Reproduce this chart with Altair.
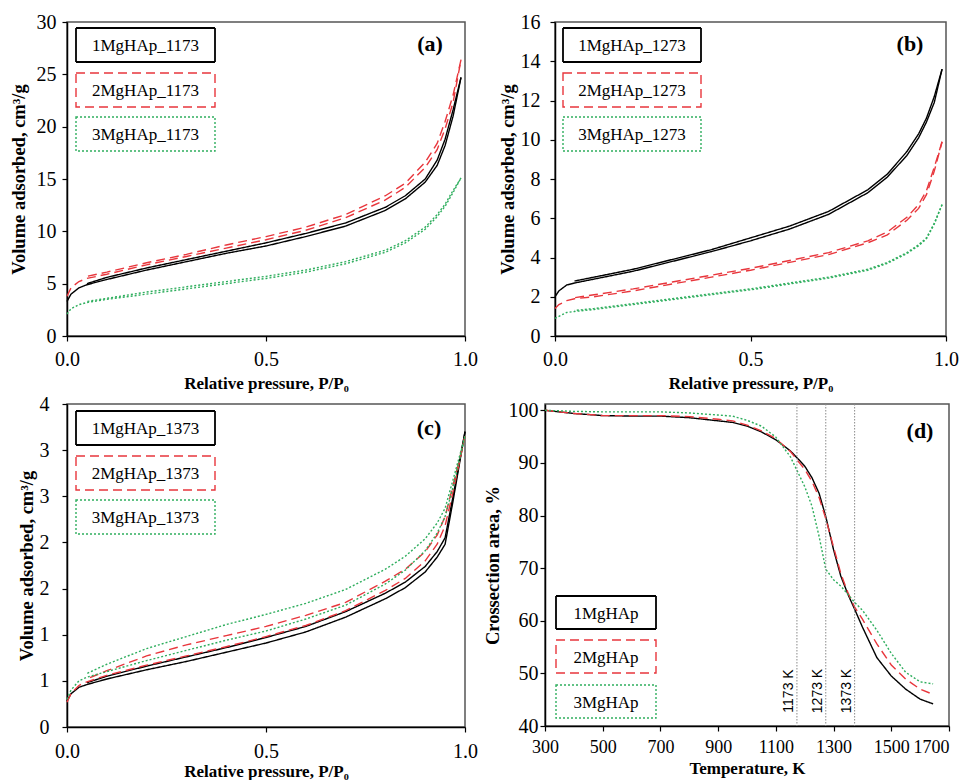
import altair as alt
import pandas as pd

SERIF = "Liberation Serif"
SANS = "Liberation Sans"

SERIES = ["1", "2", "3"]
COLORS = ["#000000", "#e8363c", "#2fae5e"]
DASHES = [[1, 0], [9, 5], [2, 2]]

# ---------------- panel (a) ----------------
p_a = [0, 0.01, 0.03, 0.05, 0.1, 0.2, 0.3, 0.4, 0.5, 0.6, 0.7, 0.8, 0.85, 0.9, 0.93, 0.95, 0.97, 0.99]
a_ads = {
    "1": [3.3, 4.0, 4.6, 4.9, 5.4, 6.3, 7.1, 7.9, 8.6, 9.5, 10.5, 12.0, 13.1, 14.7, 16.3, 18.2, 21.0, 24.7],
    "2": [3.8, 4.6, 5.2, 5.5, 5.9, 6.8, 7.6, 8.4, 9.2, 10.1, 11.3, 13.0, 14.2, 16.1, 17.8, 19.8, 22.3, 26.4],
    "3": [2.1, 2.6, 3.0, 3.2, 3.5, 4.0, 4.5, 5.0, 5.5, 6.1, 6.9, 8.0, 8.9, 10.2, 11.4, 12.4, 13.7, 15.1],
}
a_des = {
    "1": [5.0, 5.6, 6.5, 7.3, 8.1, 8.9, 9.8, 10.8, 12.3, 13.4, 15.0, 16.8, 18.8, 21.6, 24.7],
    "2": [5.7, 6.1, 7.0, 7.8, 8.7, 9.5, 10.4, 11.6, 13.4, 14.6, 16.6, 18.4, 20.5, 23.0, 26.4],
    "3": [3.3, 3.6, 4.2, 4.7, 5.2, 5.7, 6.3, 7.1, 8.2, 9.1, 10.4, 11.6, 12.6, 13.9, 15.1],
}
a_labels = ["1MgHAp_1173", "2MgHAp_1173", "3MgHAp_1173"]

# ---------------- panel (b) ----------------
p_b = [0, 0.01, 0.03, 0.05, 0.1, 0.2, 0.3, 0.4, 0.5, 0.6, 0.7, 0.8, 0.85, 0.9, 0.93, 0.95, 0.97, 0.99]
b_ads = {
    "1": [2.0, 2.3, 2.6, 2.7, 2.9, 3.3, 3.8, 4.3, 4.85, 5.45, 6.2, 7.3, 8.1, 9.2, 10.1, 10.9, 11.9, 13.6],
    "2": [1.4, 1.6, 1.8, 1.9, 2.0, 2.3, 2.65, 3.0, 3.35, 3.75, 4.15, 4.75, 5.15, 5.9, 6.5, 7.2, 8.4, 9.9],
    "3": [0.9, 1.0, 1.2, 1.25, 1.35, 1.6, 1.85, 2.1, 2.35, 2.65, 2.95, 3.35, 3.7, 4.2, 4.6, 4.95, 5.7, 6.7],
}
b_des = {
    "1": [2.8, 3.0, 3.4, 3.9, 4.4, 5.0, 5.6, 6.35, 7.45, 8.25, 9.4, 10.3, 11.1, 12.2, 13.6],
    "2": [1.95, 2.1, 2.4, 2.75, 3.1, 3.45, 3.85, 4.25, 4.85, 5.3, 6.05, 6.7, 7.4, 8.6, 9.9],
    "3": [1.3, 1.4, 1.65, 1.9, 2.15, 2.4, 2.7, 3.0, 3.4, 3.75, 4.25, 4.65, 5.0, 5.75, 6.7],
}
b_labels = ["1MgHAp_1273", "2MgHAp_1273", "3MgHAp_1273"]

# ---------------- panel (c) ----------------
p_c = [0, 0.01, 0.03, 0.05, 0.1, 0.2, 0.3, 0.4, 0.5, 0.6, 0.7, 0.8, 0.85, 0.9, 0.93, 0.95, 0.97, 1.0]
c_ads = {
    "1": [0.28, 0.36, 0.43, 0.46, 0.52, 0.62, 0.71, 0.81, 0.91, 1.03, 1.19, 1.39, 1.51, 1.68, 1.84, 1.98, 2.45, 3.2],
    "2": [0.27, 0.36, 0.45, 0.49, 0.56, 0.67, 0.77, 0.87, 0.98, 1.1, 1.26, 1.48, 1.61, 1.8, 1.98, 2.18, 2.55, 3.15],
    "3": [0.3, 0.4, 0.5, 0.54, 0.6, 0.72, 0.83, 0.94, 1.04, 1.17, 1.32, 1.55, 1.7, 1.91, 2.1, 2.28, 2.6, 3.15],
}
c_des = {
    "1": [0.48, 0.55, 0.66, 0.76, 0.86, 0.97, 1.09, 1.25, 1.45, 1.57, 1.74, 1.9, 2.05, 2.5, 3.2],
    "2": [0.52, 0.61, 0.77, 0.89, 0.99, 1.09, 1.21, 1.35, 1.58, 1.71, 1.9, 2.08, 2.28, 2.62, 3.15],
    "3": [0.58, 0.68, 0.85, 0.98, 1.11, 1.22, 1.34, 1.49, 1.71, 1.85, 2.04, 2.21, 2.37, 2.68, 3.15],
}
c_labels = ["1MgHAp_1373", "2MgHAp_1373", "3MgHAp_1373"]

# ---------------- panel (d) ----------------
T_d = [300, 400, 500, 600, 700, 800, 900, 950, 1000, 1050, 1100, 1150, 1173, 1200, 1225, 1250,
       1273, 1300, 1325, 1350, 1373, 1400, 1450, 1500, 1550, 1600, 1645]
d_vals = {
    "1": [100, 99.4, 99.0, 98.9, 98.9, 98.6, 98.0, 97.7, 97.0, 95.9, 94.4, 92.3, 91.0, 89.4, 87.2, 84.2,
          79.8, 73.5, 68.5, 65.0, 62.2, 58.8, 53.0, 49.5, 47.0, 45.1, 44.2],
    "2": [100, 99.4, 99.0, 99.0, 99.0, 98.8, 98.3, 98.0, 97.2, 96.1, 94.6, 92.2, 90.6, 88.8, 86.5, 83.4,
          79.4, 74.0, 69.0, 65.3, 62.6, 60.3, 55.6, 51.6, 48.9, 47.0, 46.0],
    "3": [100, 99.8, 99.7, 99.7, 99.7, 99.5, 99.1, 98.9, 98.1, 97.0, 94.9, 91.2, 88.6, 85.5, 81.8, 76.0,
          69.8, 67.8, 66.6, 65.0, 63.5, 62.0, 58.2, 53.8, 50.2, 48.4, 48.0],
}
d_labels = ["1MgHAp", "2MgHAp", "3MgHAp"]
d_marks = [1173, 1273, 1373]
d_mark_labels = ["1173 K", "1273 K", "1373 K"]

X_TITLE = "Relative pressure,  P/P\u2080"
Y_TITLE = "Volume adsorbed, cm\u00b3/g"

color_scale = alt.Scale(domain=SERIES, range=COLORS)
dash_scale = alt.Scale(domain=SERIES, range=DASHES)


def iso_frame(p, ads, des):
    rows = []
    for s in SERIES:
        for i, (x, v) in enumerate(zip(p, ads[s])):
            rows.append({"p": x, "v": v, "series": s, "branch": s + "a", "order": i})
        pd_ = p[-len(des[s]):]
        pts = list(zip(pd_, des[s]))[::-1]
        for i, (x, v) in enumerate(pts):
            rows.append({"p": x, "v": v, "series": s, "branch": s + "d", "order": i})
    return pd.DataFrame(rows)


def legend_layers(labels, x0, x1, tops, h, fs=17):
    layers = []
    for i, lab in enumerate(labels):
        df = pd.DataFrame({"label": [lab]})
        base = alt.Chart(df)
        layers.append(base.mark_rect(fill="white", stroke=COLORS[i],
                                     strokeWidth=1.8 if i == 0 else 1.4,
                                     strokeDash=DASHES[i]).encode(
            x=alt.value(x0), x2=alt.value(x1), y=alt.value(tops[i]), y2=alt.value(tops[i] + h)))
        layers.append(base.mark_text(font=SERIF, fontSize=fs, color="black",
                                     align="center", baseline="middle").encode(
            x=alt.value((x0 + x1) / 2), y=alt.value(tops[i] + h / 2 + 1), text="label:N"))
    return layers


def tag_layer(tag, x, y):
    return alt.Chart(pd.DataFrame({"t": [tag]})).mark_text(
        font=SERIF, fontSize=22, fontWeight="bold", color="black", align="center", baseline="middle"
    ).encode(x=alt.value(x), y=alt.value(y), text="t:N")


def iso_panel(p, ads, des, labels, ydom, yvals, w, h, tag, tagpos, leg_x, leg_tops,
              ylabpad, ytitlepad, xlabpad, xtitlepad, ylabexpr=None):
    df = iso_frame(p, ads, des)
    yaxis_kw = dict(values=yvals, title=Y_TITLE, labelPadding=ylabpad, titlePadding=ytitlepad)
    if ylabexpr:
        yaxis_kw["labelExpr"] = ylabexpr
    lines = alt.Chart(df).mark_line(strokeWidth=1.4).encode(
        x=alt.X("p:Q", scale=alt.Scale(domain=[0, 1], nice=False),
                axis=alt.Axis(values=[0, 0.5, 1], format=".1f", title=X_TITLE,
                              labelPadding=xlabpad, titlePadding=xtitlepad, titleFontSize=17)),
        y=alt.Y("v:Q", scale=alt.Scale(domain=ydom, nice=False), axis=alt.Axis(**yaxis_kw)),
        color=alt.Color("series:N", scale=color_scale, legend=None),
        strokeDash=alt.StrokeDash("series:N", scale=dash_scale, legend=None),
        detail="branch:N",
        order="order:Q",
    )
    layers = [lines] + legend_layers(labels, leg_x[0], leg_x[1], leg_tops, 34) + [tag_layer(tag, *tagpos)]
    return alt.layer(*layers).properties(width=w, height=h)


panel_a = iso_panel(p_a, a_ads, a_des, a_labels, [0, 30], [0, 5, 10, 15, 20, 25, 30], 398, 314,
                    "(a)", (363, 22), (9, 148), [6, 51, 95], 6, 8, 8, 6)
panel_b = iso_panel(p_b, b_ads, b_des, b_labels, [0, 16], [0, 2, 4, 6, 8, 10, 12, 14, 16], 391, 314,
                    "(b)", (355, 22), (8, 146), [6, 51, 95], 10, 3, 8, 6)
panel_c = iso_panel(p_c, c_ads, c_des, c_labels, [0, 3.5], [0, 0.5, 1, 1.5, 2, 2.5, 3, 3.5], 398, 323,
                    "(c)", (362, 24), (9, 148), [7, 52, 96], 13, 3, 9, 2, ylabexpr="round(datum.value)")

# panel (d)
rows = []
for s in SERIES:
    for i, (t, v) in enumerate(zip(T_d, d_vals[s])):
        rows.append({"T": t, "v": v, "series": s, "order": i})
df_d = pd.DataFrame(rows)

d_lines = alt.Chart(df_d).mark_line(strokeWidth=1.4).encode(
    x=alt.X("T:Q", scale=alt.Scale(domain=[300, 1700], nice=False),
            axis=alt.Axis(values=list(range(300, 1701, 200)), format="d", title="Temperature, K",
                          labelPadding=7, titlePadding=4, labelFontSize=18, titleFontSize=17,
                          labelAlign={"condition": {"test": "datum.value >= 1700", "value": "right"},
                                      "value": "center"})),
    y=alt.Y("v:Q", scale=alt.Scale(domain=[40, 101.2], nice=False),
            axis=alt.Axis(values=[40, 50, 60, 70, 80, 90, 100], title="Crossection area, %",
                          labelPadding=2, titlePadding=6)),
    color=alt.Color("series:N", scale=color_scale, legend=None),
    strokeDash=alt.StrokeDash("series:N", scale=dash_scale, legend=None),
    detail="series:N",
    order="order:Q",
)
df_marks = pd.DataFrame({"T": d_marks, "label": d_mark_labels})
d_rules = alt.Chart(df_marks).mark_rule(color="#8a8a8a", strokeWidth=1, strokeDash=[1.5, 1.5]).encode(
    x="T:Q")
d_texts = alt.Chart(df_marks).mark_text(font=SANS, fontSize=14, color="black", angle=270,
                                        align="center", baseline="alphabetic", dy=-4).encode(
    x="T:Q", y=alt.value(287), text="label:N")

panel_d = alt.layer(
    d_lines, d_rules, d_texts,
    *legend_layers(d_labels, 11, 111, [192, 236, 281], 33),
    tag_layer("(d)", 375, 27),
).properties(width=404, height=322)

row1 = alt.hconcat(panel_a, panel_b, spacing=90, bounds="flush")
row2 = alt.hconcat(panel_c, panel_d, spacing=80, bounds="flush")

chart = alt.vconcat(row1, row2, spacing=1).properties(
    padding={"left": 0, "top": 3, "right": 0, "bottom": 0}
).configure_view(
    stroke="#555555", strokeWidth=1.5
).configure_axis(
    labelFont=SERIF, labelFontSize=20, labelColor="black", labelFlush=False,
    titleFont=SERIF, titleFontSize=18.5, titleFontWeight="bold", titleColor="black",
    tickSize=5, tickColor="black", domainColor="black", domainWidth=1.5, tickWidth=1.2,
    grid=False, labelOverlap=False,
)

chart.save("out.html", embed_options={"renderer": "svg", "actions": False})
